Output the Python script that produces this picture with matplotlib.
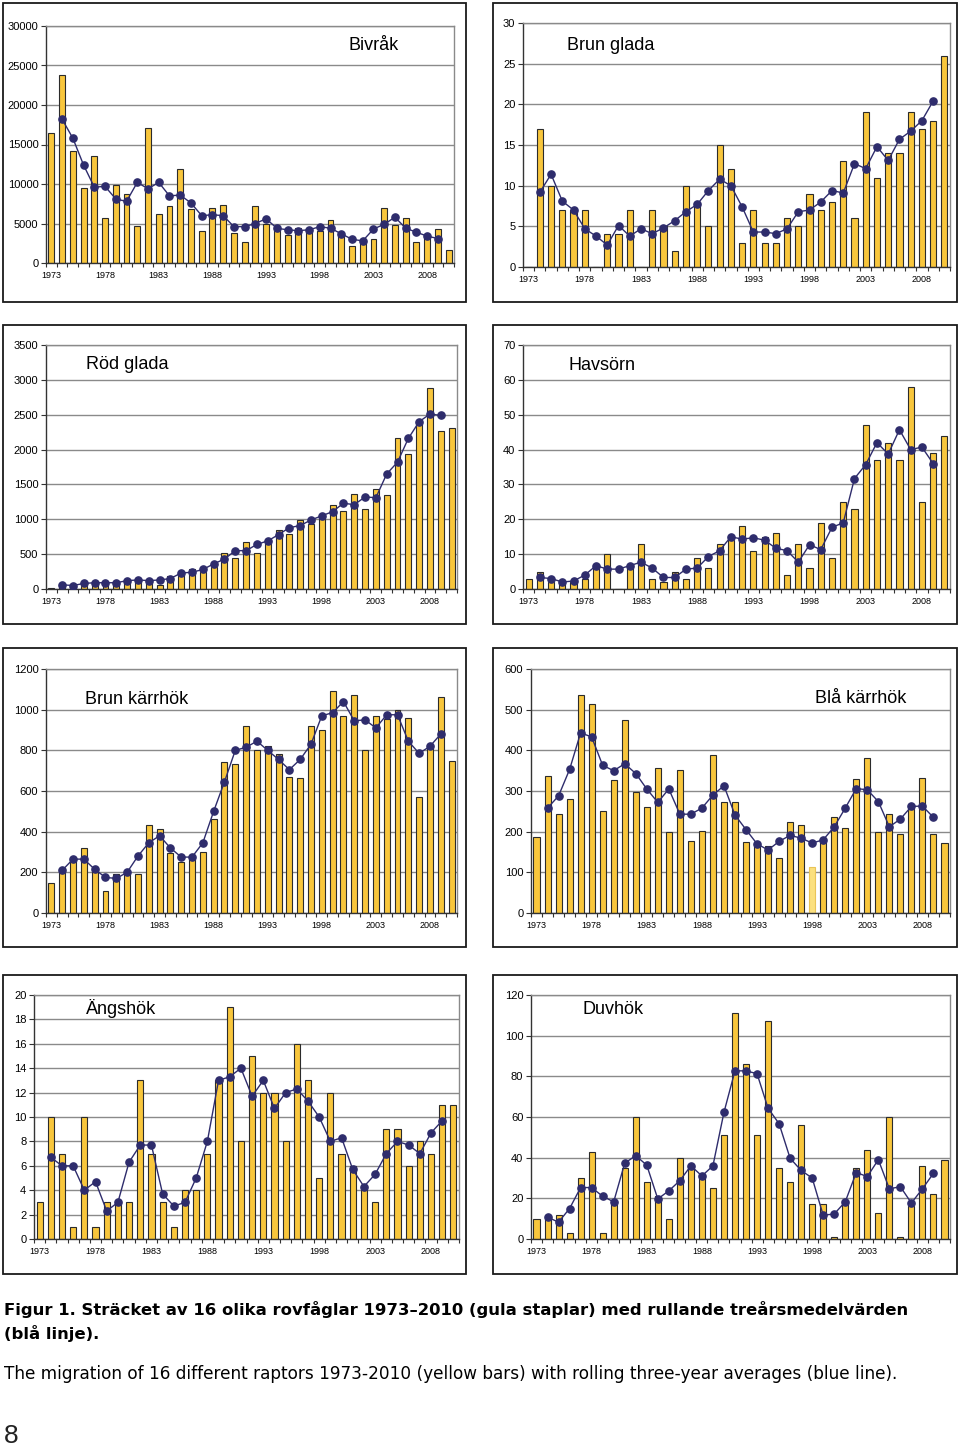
import matplotlib
matplotlib.use('Agg')
import matplotlib.pyplot as plt
from matplotlib.patches import Rectangle
import numpy as np

plt.rcParams['font.family'] = ['Liberation Sans', 'DejaVu Sans']

# ---------------- data ----------------
years = list(range(1973, 2011))
avg_years = list(range(1974, 2010))
tick_years = [1973, 1978, 1983, 1988, 1993, 1998, 2003, 2008]

bivrak = [16500, 23800, 14200, 9500, 13600, 5700, 9900, 8700, 4700, 17100,
          6200, 7200, 11900, 6800, 4100, 7000, 7300, 3800, 2700, 7200,
          5000, 4400, 3500, 4400, 4000, 4000, 5500, 3500, 2100, 2700,
          3100, 7000, 4800, 5700, 2700, 3200, 4300, 1600]
bivrak_avg = [18200, 15800, 12400, 9600, 9700, 8100, 7800, 10200, 9400, 10200,
              8500, 8600, 7600, 6000, 6100, 6000, 4600, 4600, 5000, 5600,
              4400, 4200, 4100, 4200, 4600, 4400, 3700, 3000, 2800, 4300,
              4900, 5800, 4400, 3900, 3400, 3100]

brun_glada = [0, 17, 10, 7, 7, 7, 0, 4, 4, 7,
              0, 7, 5, 2, 10, 8, 5, 15, 12, 3,
              7, 3, 3, 6, 5, 9, 7, 8, 13, 6,
              19, 11, 14, 14, 19, 17, 18, 26]
brun_glada_avg = [9.2, 11.4, 8.1, 7.0, 4.7, 3.8, 2.7, 5.1, 3.8, 4.7,
                  4.1, 4.8, 5.7, 6.8, 7.7, 9.4, 10.8, 10.0, 7.4, 4.3,
                  4.3, 4.1, 4.7, 6.8, 7.0, 8.0, 9.4, 9.1, 12.7, 12.1,
                  14.8, 13.1, 15.7, 16.7, 18.0, 20.4]

rod_glada = [20, 60, 40, 40, 90, 80, 90, 110, 130, 130,
             60, 190, 200, 280, 240, 320, 520, 450, 670, 510,
             700, 840, 790, 990, 930, 1010, 1200, 1120, 1360, 1150,
             1440, 1350, 2160, 1930, 2370, 2890, 2270, 2310]
rod_glada_avg = [60, 50, 80, 90, 90, 90, 120, 130, 120, 130,
                 150, 230, 240, 280, 360, 430, 550, 550, 640, 690,
                 780, 880, 910, 990, 1050, 1110, 1230, 1210, 1320, 1310,
                 1650, 1820, 2160, 2400, 2510, 2490]

havsorn = [3, 5, 2, 2, 2, 3, 7, 10, 0, 7,
           13, 3, 2, 5, 3, 9, 6, 13, 14, 18,
           11, 15, 16, 4, 13, 6, 19, 9, 25, 23,
           47, 37, 42, 37, 58, 25, 39, 44]
havsorn_avg = [3.3, 3.0, 2.0, 2.3, 4.0, 6.7, 5.7, 5.7, 6.7, 7.7,
               6.0, 3.3, 3.3, 5.7, 6.0, 9.3, 11.0, 15.0, 14.3, 14.7,
               14.0, 11.7, 11.0, 7.7, 12.7, 11.3, 17.7, 19.0, 31.7, 35.7,
               42.0, 38.7, 45.7, 40.0, 40.7, 36.0]

brun_karrhok = [150, 215, 265, 320, 215, 110, 190, 195, 190, 435,
                415, 295, 250, 270, 300, 460, 745, 735, 920, 800,
                820, 780, 670, 665, 920, 900, 1090, 970, 1070, 800,
                970, 955, 1000, 960, 570, 810, 1060, 750]
brun_karrhok_avg = [210, 265, 265, 215, 175, 170, 200, 280, 345, 380,
                    320, 275, 275, 345, 500, 645, 800, 815, 845, 800,
                    755, 705, 755, 830, 970, 985, 1040, 945, 950, 910,
                    975, 975, 845, 785, 820, 880]

bla_karrhok = [188, 338, 243, 280, 535, 513, 250, 327, 475, 297,
               260, 357, 200, 352, 176, 202, 388, 273, 273, 175,
               165, 165, 135, 223, 216, 112, 180, 237, 208, 330,
               380, 198, 243, 195, 255, 333, 195, 172]
bla_karrhok_avg = [258, 288, 353, 443, 433, 363, 350, 367, 343, 305,
                   272, 305, 243, 243, 258, 290, 313, 241, 205, 170,
                   155, 176, 191, 184, 172, 180, 212, 258, 306, 303,
                   274, 212, 231, 262, 263, 235]

angshok = [3, 10, 7, 1, 10, 1, 3, 3, 3, 13,
           7, 3, 1, 4, 4, 7, 13, 19, 8, 15,
           12, 12, 8, 16, 13, 5, 12, 7, 6, 4,
           3, 9, 9, 6, 8, 7, 11, 11]
angshok_avg = [6.7, 6.0, 6.0, 4.0, 4.7, 2.3, 3.0, 6.3, 7.7, 7.7,
               3.7, 2.7, 3.0, 5.0, 8.0, 13.0, 13.3, 14.0, 11.7, 13.0,
               10.7, 12.0, 12.3, 11.3, 10.0, 8.0, 8.3, 5.7, 4.3, 5.3,
               7.0, 8.0, 7.7, 7.0, 8.7, 9.7]

duvhok = [10, 10, 12, 3, 30, 43, 3, 17, 35, 60,
          28, 21, 10, 40, 36, 32, 25, 51, 111, 86,
          51, 107, 35, 28, 56, 17, 17, 1, 19, 35,
          44, 13, 60, 1, 16, 36, 22, 39]
duvhok_avg = [10.7, 8.3, 15.0, 25.3, 25.3, 21.0, 18.3, 37.3, 41.0, 36.3,
              19.7, 23.7, 28.7, 36.0, 31.0, 36.0, 62.3, 82.7, 82.7, 81.3,
              64.3, 56.7, 39.7, 33.7, 30.0, 11.7, 12.3, 18.3, 32.7, 30.7,
              39.0, 24.7, 25.7, 17.7, 24.7, 32.3]

titles = ['Bivråk', 'Brun glada', 'Röd glada', 'Havsörn',
          'Brun kärrhök', 'Blå kärrhök', 'Ängshök', 'Duvhök']

caption_sv_1 = 'Figur 1. Sträcket av 16 olika rovfåglar 1973–2010 (gula staplar) med rullande treårsmedelvärden'
caption_sv_2 = '(blå linje).'
caption_en = 'The migration of 16 different raptors 1973-2010 (yellow bars) with rolling three-year averages (blue line).'
page_no = '8'

# ---------------- layout / style ----------------
W, H = 960, 1447
fig = plt.figure(figsize=(W / 100, H / 100), dpi=100)
fig.patch.set_facecolor('white')


def rect(x0, y0, x1, y1):
    return [x0 / W, 1 - y1 / H, (x1 - x0) / W, (y1 - y0) / H]


BAR = '#F8C63C'
EDGE = '#2b2b2b'
NAVY = '#2E2C6C'
GRID = '#8a8a8a'

panels = [
    # bars, avg, ymax, step, plot box, frame box, title xy
    (bivrak, bivrak_avg, 30000, 5000, (46, 26, 454, 263), (3, 3, 466, 302), (349, 46)),
    (brun_glada, brun_glada_avg, 30, 5, (523, 23, 950, 267), (493, 3, 957, 302), (567, 46)),
    (rod_glada, rod_glada_avg, 3500, 500, (46, 345, 457, 589), (3, 325, 466, 624), (86, 365)),
    (havsorn, havsorn_avg, 70, 10, (523, 345, 950, 589), (493, 325, 957, 624), (568, 366)),
    (brun_karrhok, brun_karrhok_avg, 1200, 200, (46, 669, 457, 913), (3, 648, 466, 947), (85, 699)),
    (bla_karrhok, bla_karrhok_avg, 600, 100, (531, 669, 950, 913), (493, 648, 957, 947), (815, 698)),
    (angshok, angshok_avg, 20, 2, (34, 995, 459, 1239), (3, 975, 466, 1274), (86, 1009)),
    (duvhok, duvhok_avg, 120, 20, (531, 995, 950, 1239), (493, 975, 957, 1274), (583, 1010)),
]

for i, (vals, avg, ymax, step, pbox, fbox, tpos) in enumerate(panels):
    fx0, fy0, fx1, fy1 = fbox
    fig.patches.append(Rectangle((fx0 / W, 1 - fy1 / H), (fx1 - fx0) / W, (fy1 - fy0) / H,
                                 transform=fig.transFigure, fill=False,
                                 ec='#1a1a1a', lw=1.3, zorder=0))
    ax = fig.add_axes(rect(*pbox))
    ax.set_facecolor('white')
    colors = [BAR] * len(vals)
    edges = [EDGE] * len(vals)
    if titles[i] == 'Blå kärrhök':
        colors[years.index(1998)] = '#FBE07E'
        edges[years.index(1998)] = '#E9C458'
    ax.bar(years, vals, width=0.55, color=colors, edgecolor=edges, linewidth=0.8, zorder=2)
    ax.plot(avg_years, avg, color=NAVY, lw=1.0, marker='o', ms=5.2,
            mfc=NAVY, mec=NAVY, zorder=3)
    ax.set_xlim(1972.5, 2010.5)
    ax.set_ylim(0, ymax)
    ax.set_yticks(np.arange(0, ymax + step / 2, step))
    ax.yaxis.grid(True, color=GRID, lw=1.0)
    ax.set_axisbelow(True)
    ax.set_xticks(tick_years)
    ax.set_xticklabels([str(y) for y in tick_years])
    ax.set_xticks(np.arange(1972.5, 2011, 1.0), minor=True)
    ax.tick_params(axis='x', which='major', length=0, pad=6, labelsize=6.5)
    ax.tick_params(axis='x', which='minor', length=3, width=0.8, direction='out', color='#333333')
    ax.tick_params(axis='y', which='major', length=3.5, width=0.8, direction='out',
                   labelsize=8, pad=2, color='#333333')
    for s in ['left', 'bottom']:
        ax.spines[s].set_color('#333333')
        ax.spines[s].set_linewidth(1.0)
    for s in ['top', 'right']:
        ax.spines[s].set_color(GRID)
        ax.spines[s].set_linewidth(1.0)
    fig.text(tpos[0] / W, 1 - tpos[1] / H, titles[i], fontsize=13, ha='left', va='center')

cap_font = ['DejaVu Sans']
fig.text(4 / W, 1 - 1310 / H, caption_sv_1, fontsize=11.85, fontweight='bold',
         family=cap_font, ha='left', va='center')
fig.text(4 / W, 1 - 1334 / H, caption_sv_2, fontsize=11.85, fontweight='bold',
         family=cap_font, ha='left', va='center')
fig.text(4 / W, 1 - 1374 / H, caption_en, fontsize=12.15, family=cap_font,
         ha='left', va='center')
fig.text(4 / W, 1 - 1436 / H, page_no, fontsize=19, ha='left', va='center', color='#222222')

fig.savefig('out.png', dpi=100, facecolor='white')
